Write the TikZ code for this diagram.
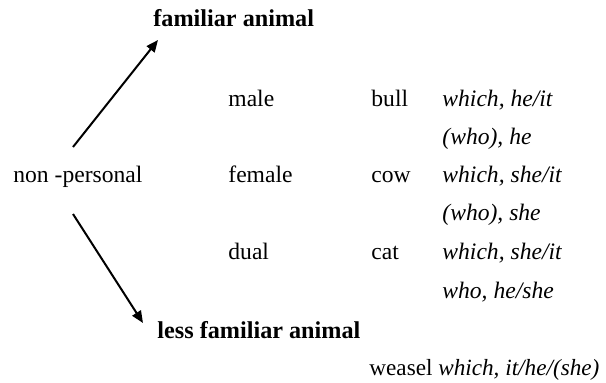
\documentclass[tikz,border=0pt]{standalone}
\usepackage{fontspec}
\setmainfont{Liberation Serif}
\usetikzlibrary{arrows.meta}
\begin{document}
\begin{tikzpicture}[x=0.5pt,y=-0.5pt,
  txt/.style={anchor=base west,inner sep=0pt,font=\fontsize{11.8}{14}\selectfont},
  hd/.style={txt,font=\fontsize{12.1}{14}\selectfont\bfseries},
  it/.style={txt,font=\fontsize{11.8}{14}\selectfont\itshape},
  arr/.style={line width=1pt,-{Triangle[length=6pt,width=5pt]}}]
\useasboundingbox (0,0) rectangle (606,382);
\node[hd] (fam) at (153,26) {familiar animal};
\node[hd] (less) at (157,338) {less familiar animal};
\node[txt] (np) at (13,182) {non -personal};
\node[txt] (male) at (228,106) {male};
\node[txt] (female) at (228,182) {female};
\node[txt] (dual) at (228,259) {dual};
\node[txt] (bull) at (371,106) {bull};
\node[txt] (cow) at (371,182) {cow};
\node[txt] (cat) at (371,259) {cat};
\node[it] (p1) at (442,106) {which, he/it};
\node[it] (p2) at (442,144) {(who), he};
\node[it] (p3) at (442,182) {which, she/it};
\node[it] (p4) at (442,220) {(who), she};
\node[it] (p5) at (442,259) {which, she/it};
\node[it] (p6) at (442,298) {who, he/she};
\node[txt,font=\fontsize{11.6}{14}\selectfont] (weasel) at (369,375) {weasel \textit{which, it/he/(she)}};
\coordinate (upS) at (73,147);
\coordinate (upE) at (158,40);
\coordinate (dnS) at (73,214);
\coordinate (dnE) at (143,323);
\draw[arr] (upS) -- (upE);
\draw[arr] (dnS) -- (dnE);
\end{tikzpicture}
\end{document}
